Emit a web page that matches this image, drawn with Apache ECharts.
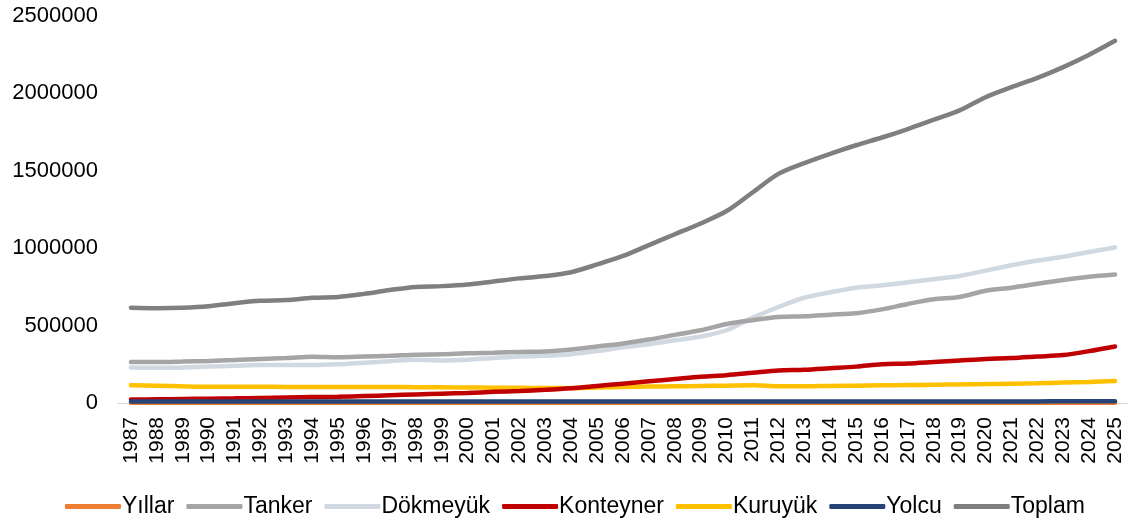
<!DOCTYPE html>
<html>
<head>
<meta charset="utf-8">
<script src="https://cdn.jsdelivr.net/npm/echarts@6/dist/echarts.min.js"></script>
<style>
  html, body { margin: 0; padding: 0; background: #fff; }
  #chart { width: 1136px; height: 527px; }
</style>
</head>
<body>
<div id="chart"></div>
<script>
const years = ['1987','1988','1989','1990','1991','1992','1993','1994','1995','1996',
  '1997','1998','1999','2000','2001','2002','2003','2004','2005','2006',
  '2007','2008','2009','2010','2011','2012','2013','2014','2015','2016',
  '2017','2018','2019','2020','2021','2022','2023','2024','2025'];

// "Yıllar" series holds the year numbers themselves (flat on the 0 line)
const yillar = [1987,1988,1989,1990,1991,1992,1993,1994,1995,1996,
  1997,1998,1999,2000,2001,2002,2003,2004,2005,2006,
  2007,2008,2009,2010,2011,2012,2013,2014,2015,2016,
  2017,2018,2019,2020,2021,2022,2023,2024,2025];

const tanker = [265000,265000,268000,272000,278000,285000,290000,298000,295000,300000,
  305000,312000,315000,322000,325000,330000,332000,345000,365000,385000,
  410000,440000,470000,510000,535000,555000,560000,570000,580000,605000,
  640000,670000,685000,725000,745000,770000,795000,815000,830000];

const dokmeyuk = [230000,228000,230000,235000,240000,245000,245000,245000,250000,260000,
  270000,280000,275000,280000,290000,300000,305000,315000,335000,360000,
  380000,405000,430000,470000,550000,620000,680000,715000,745000,760000,
  780000,800000,820000,855000,890000,920000,945000,975000,1005000];

const konteyner = [22000,24000,26000,28000,30000,33000,36000,38000,40000,45000,
  50000,55000,60000,65000,72000,78000,85000,95000,110000,125000,
  140000,155000,170000,180000,195000,210000,215000,225000,235000,250000,
  255000,265000,275000,285000,290000,300000,310000,335000,365000];

const kuruyuk = [115000,112000,108000,105000,105000,105000,104000,104000,103000,103000,
  103000,102000,101000,100000,99000,98000,97000,96000,100000,103000,
  106000,108000,110000,112000,114000,108000,108000,110000,112000,114000,
  116000,118000,120000,122000,125000,128000,132000,136000,142000];

const yolcu = [9000,9000,9000,9000,9000,9000,9000,9000,9000,9000,
  9000,9000,9000,9000,9000,9000,9000,9000,9000,9000,
  9000,9000,9000,9000,9000,9000,9000,9000,9000,9000,
  10000,10000,10000,10000,10000,10000,11000,11000,12000];

const toplam = [615000,612000,615000,625000,645000,660000,665000,680000,685000,705000,
  730000,750000,755000,765000,785000,805000,820000,845000,895000,950000,
  1020000,1090000,1160000,1240000,1360000,1480000,1550000,1610000,1665000,1715000,
  1770000,1830000,1890000,1975000,2040000,2100000,2170000,2250000,2340000];

const yTicks = [0, 500000, 1000000, 1500000, 2000000, 2500000];

function makeLine(name, data, color, z) {
  return {
    name: name,
    type: 'line',
    data: data,
    smooth: 0.3,
    symbol: 'none',
    z: z,
    lineStyle: { width: 4.5, color: color, cap: 'round' },
    itemStyle: { color: color }
  };
}

const chart = echarts.init(document.getElementById('chart'));
chart.setOption({
  animation: false,
  textStyle: { fontFamily: 'Liberation Sans, Arial, sans-serif' },
  grid: { left: 118, right: 8, top: 16, bottom: 124, containLabel: false },
  legend: {
    top: 490,
    left: 60,
    itemWidth: 56,
    itemHeight: 5,
    itemGap: 12,
    icon: 'roundRect',
    textStyle: { fontSize: 23, color: '#000', padding: [0, 0, 0, -4] },
    data: ['Yıllar','Tanker','Dökmeyük','Konteyner','Kuruyük','Yolcu','Toplam']
  },
  xAxis: {
    type: 'category',
    data: years,
    boundaryGap: true,
    axisLine: { lineStyle: { color: '#d9d9d9', width: 1 } },
    axisTick: { show: false },
    axisLabel: { rotate: 90, fontSize: 21, color: '#000', margin: 14, interval: 0 }
  },
  yAxis: {
    type: 'value',
    min: yTicks[0],
    max: yTicks[yTicks.length - 1],
    interval: 500000,
    splitLine: { show: false },
    axisLine: { show: false },
    axisTick: { show: false },
    axisLabel: { fontSize: 22, color: '#000', margin: 20, formatter: v => String(v) }
  },
  series: [
    makeLine('Yıllar', yillar, '#ed7d31', 1),
    makeLine('Tanker', tanker, '#a5a5a5', 3),
    makeLine('Dökmeyük', dokmeyuk, '#d0d8e2', 2),
    makeLine('Konteyner', konteyner, '#c00000', 4),
    makeLine('Kuruyük', kuruyuk, '#ffc000', 3),
    makeLine('Yolcu', yolcu, '#264478', 5),
    makeLine('Toplam', toplam, '#7f7f7f', 6)
  ]
});
</script>
</body>
</html>
